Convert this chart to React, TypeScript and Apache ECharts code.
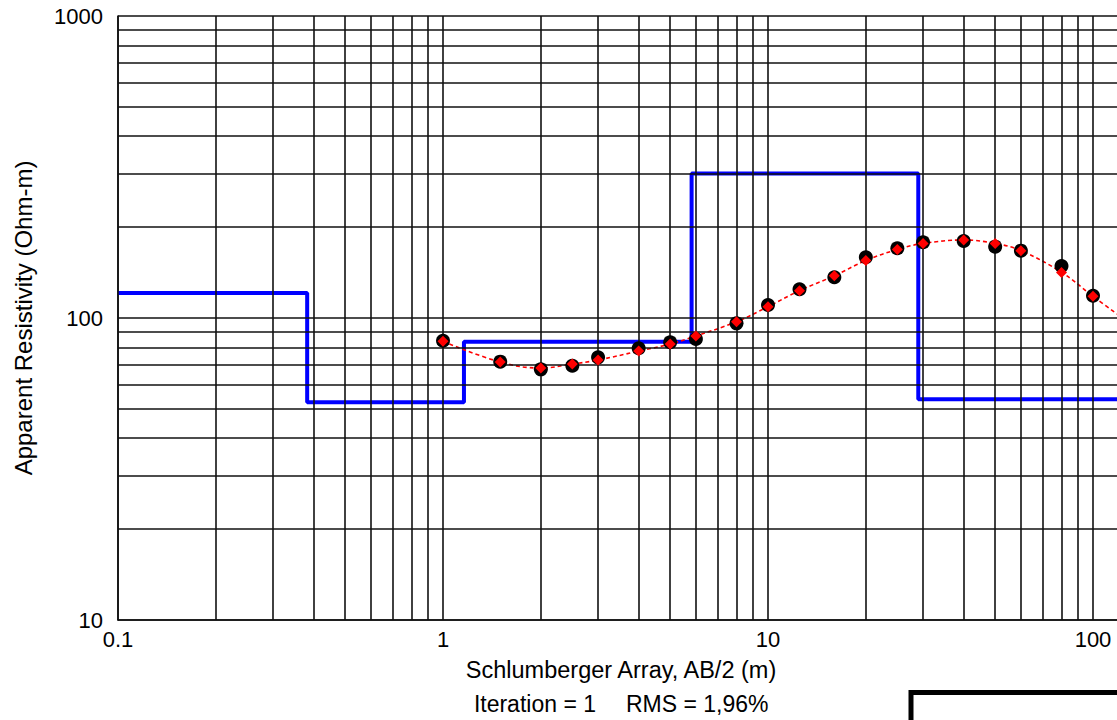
import React, { useEffect, useRef } from "react";
import * as echarts from "echarts";

// AB/2 spacings (m)
const abHalf = [1, 1.5, 2, 2.5, 3, 4, 5, 6, 8, 10, 12.5, 16, 20, 25, 30, 40, 50, 60, 80, 100];
// observed apparent resistivity (black circles)
const observed = [84.1, 71.7, 67.6, 69.5, 74.1, 79.4, 83.1, 85.2, 96.0, 110.4, 124.5, 136.4, 158.9, 170.2, 178.2, 179.9, 172.3, 167.1, 148.6, 118.5];
// calculated apparent resistivity (red diamonds)
const calculated = [83.7, 71.5, 68.3, 70.4, 72.6, 77.7, 82.0, 87.2, 97.2, 109.0, 123.2, 138.0, 155.0, 168.6, 176.5, 181.2, 176.5, 167.1, 141.6, 118.0];
// model response curve continues past the last sounding point
const curveExtraAb = [125];
const curveExtraRho = [99];
// layered model (blue)
const layerRho = [121, 52.6, 83.5, 301, 53.8];
const layerDepth = [0.382, 1.16, 5.82, 29.0];

const xTickLabels = ["0.1", "1", "10", "100"];
const yTickLabels = ["10", "100", "1000"];
const X_MIN = 0.1;
const X_MAX = 125;
const Y_MIN = 10;
const Y_MAX = 1000;
const multiples = [1, 2, 3, 4, 5, 6, 7, 8, 9];
const xDecades = [0.1, 1, 10, 100];
const yDecades = [10, 100, 1000];

const FONT = "'Liberation Sans', Arial, sans-serif";

export default function App() {
  const ref = useRef<HTMLDivElement>(null);

  useEffect(() => {
    if (!ref.current) return;
    const chart = echarts.init(ref.current, undefined, { renderer: "svg" });

    const xGrid: number[] = [];
    xDecades.forEach((d) => multiples.forEach((m) => { const v = d * m; if (v <= X_MAX) xGrid.push(v); }));
    const yGrid: number[] = [];
    yDecades.forEach((d) => multiples.forEach((m) => { const v = d * m; if (v <= Y_MAX) yGrid.push(v); }));

    const modelPts: number[][] = [];
    let x0 = X_MIN;
    layerRho.forEach((r, i) => {
      const x1 = i < layerDepth.length ? layerDepth[i] : X_MAX;
      modelPts.push([x0, r], [x1, r]);
      x0 = x1;
    });

    const curve = abHalf.map((x, i) => [x, calculated[i]]).concat(curveExtraAb.map((x, i) => [x, curveExtraRho[i]]));

    const fmt = (labels: string[]) => (v: number) => {
      const s = String(Number(v.toPrecision(6)));
      return labels.includes(s) ? s : "";
    };

    const gridLine = { color: "#111", width: 1.6, type: "solid" as const };

    chart.setOption({
      animation: false,
      backgroundColor: "#fff",
      grid: { left: 118, top: 16, width: 1006.5, height: 604, containLabel: false },
      xAxis: {
        type: "log",
        logBase: 10,
        min: X_MIN,
        max: X_MAX,
        axisLine: { show: true, lineStyle: { color: "#111", width: 1.6 } },
        axisTick: { show: false },
        splitLine: { show: false },
        minorSplitLine: { show: false },
        axisLabel: {
          formatter: fmt(xTickLabels),
          fontSize: 22,
          fontFamily: FONT,
          color: "#000",
          margin: 8,
          showMaxLabel: false,
        },
      },
      yAxis: {
        type: "log",
        logBase: 10,
        min: Y_MIN,
        max: Y_MAX,
        axisLine: { show: true, lineStyle: { color: "#111", width: 1.6 } },
        axisTick: { show: false },
        splitLine: { show: false },
        axisLabel: {
          formatter: fmt(yTickLabels),
          fontSize: 22,
          fontFamily: FONT,
          color: "#000",
          margin: 15,
        },
      },
      graphic: [
        {
          type: "text",
          x: 621,
          y: 670,
          style: { text: "Schlumberger Array, AB/2 (m)", fontSize: 23.5, fontFamily: FONT, fill: "#000", textAlign: "center", textVerticalAlign: "middle" },
        },
        {
          type: "text",
          x: 596,
          y: 704,
          style: { text: "Iteration = 1", fontSize: 23, fontFamily: FONT, fill: "#000", textAlign: "right", textVerticalAlign: "middle" },
        },
        {
          type: "text",
          x: 626,
          y: 704,
          style: { text: "RMS = 1,96%", fontSize: 23, fontFamily: FONT, fill: "#000", textAlign: "left", textVerticalAlign: "middle" },
        },
        {
          type: "text",
          x: 23,
          y: 318,
          rotation: Math.PI / 2,
          style: { text: "Apparent Resistivity (Ohm-m)", fontSize: 24, fontFamily: FONT, fill: "#000", textAlign: "center", textVerticalAlign: "middle" },
        },
        {
          type: "rect",
          shape: { x: 911, y: 692.5, width: 400, height: 100 },
          style: { fill: "#fff", stroke: "#000", lineWidth: 5 },
        },
      ],
      series: [
        {
          type: "line",
          data: [],
          z: 1,
          silent: true,
          markLine: {
            silent: true,
            symbol: ["none", "none"],
            label: { show: false },
            lineStyle: gridLine,
            emphasis: { disabled: true },
            data: [...xGrid.map((v) => ({ xAxis: v })), ...yGrid.map((v) => ({ yAxis: v }))],
          },
        },
        {
          type: "line",
          data: modelPts,
          z: 3,
          symbol: "none",
          lineStyle: { color: "#0000ff", width: 4 },
          silent: true,
        },
        {
          type: "line",
          data: curve,
          z: 4,
          smooth: 0.4,
          symbol: "none",
          lineStyle: { color: "#ff0000", width: 1.6, type: [4, 3] },
          silent: true,
        },
        {
          type: "scatter",
          data: abHalf.map((x, i) => [x, observed[i]]),
          z: 5,
          symbol: "circle",
          symbolSize: 14,
          itemStyle: { color: "#000", opacity: 1 },
          silent: true,
        },
        {
          type: "scatter",
          data: abHalf.map((x, i) => [x, calculated[i]]),
          z: 6,
          symbol: "diamond",
          symbolSize: 11,
          itemStyle: { color: "#ff0000", opacity: 1 },
          silent: true,
        },
      ],
    });

    return () => chart.dispose();
  }, []);

  return (
    <div style={{ position: "fixed", left: 0, top: 0, width: 1117, height: 720, overflow: "hidden", background: "#fff" }}>
      <div ref={ref} style={{ width: 1140, height: 720 }} />
    </div>
  );
}
